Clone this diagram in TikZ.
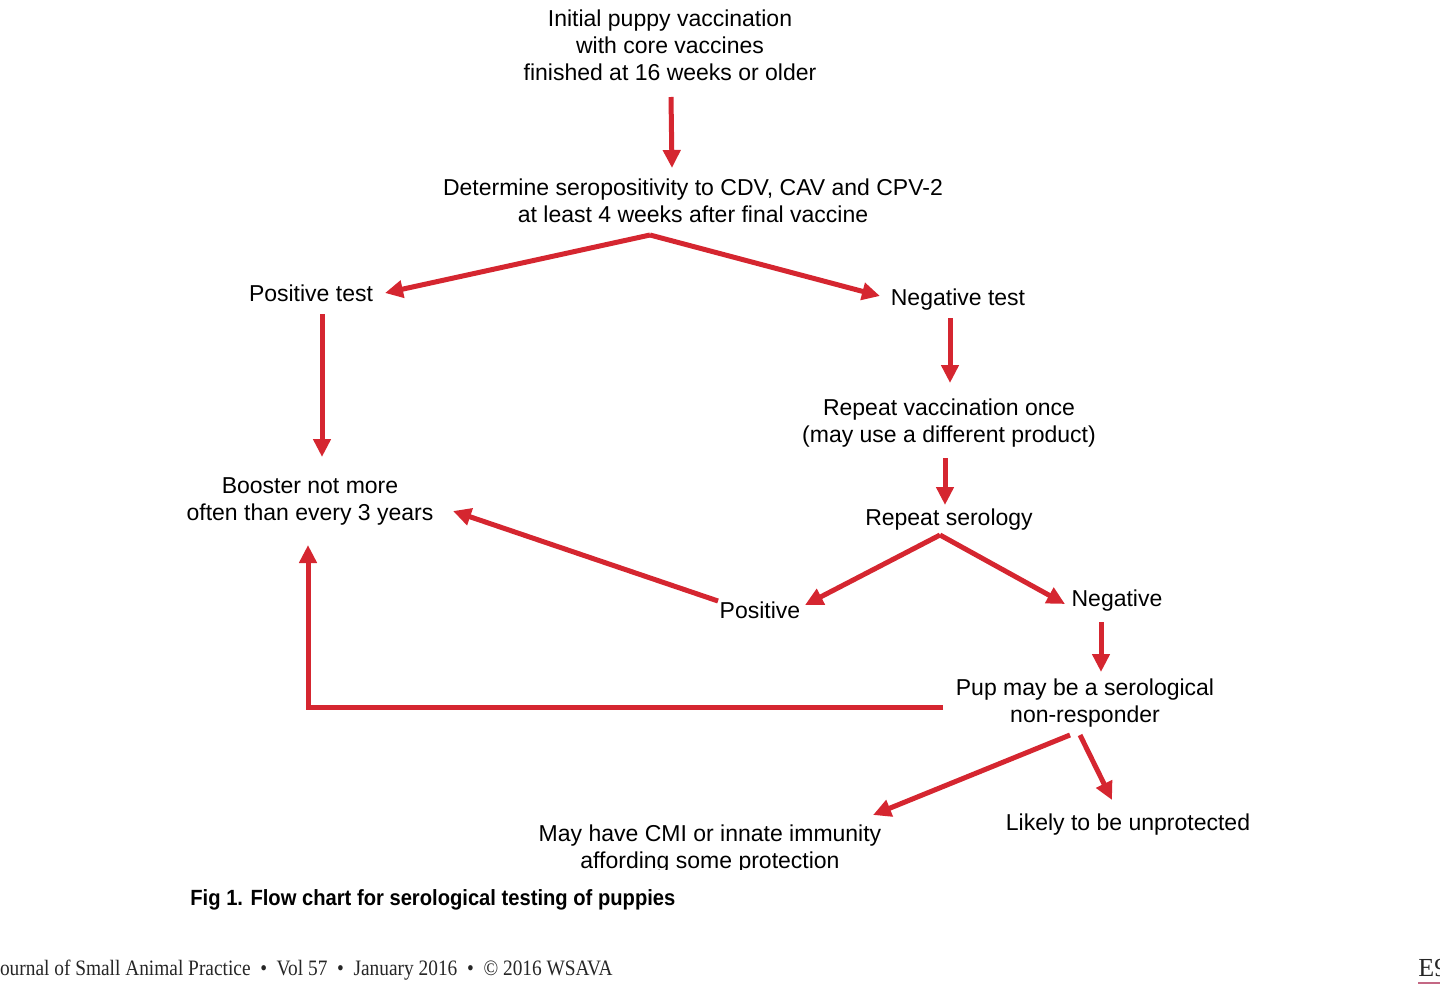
\documentclass[tikz,border=0pt]{standalone}
\usepackage{fontspec}
\setmainfont{Liberation Sans}
\newfontfamily\footserif{Liberation Serif}
\usetikzlibrary{arrows.meta}
\definecolor{arrowred}{RGB}{213,38,48}
\definecolor{pinkline}{RGB}{196,104,132}
\begin{document}
\begin{tikzpicture}[x=0.5pt,y=-0.5pt,
  txt/.style={align=center, inner sep=0pt, font=\fontsize{11.5pt}{13.5pt}\selectfont},
  arr/.style={draw=arrowred, line width=2.5pt, -{Triangle[length=9pt,width=8.5pt]}}]
\useasboundingbox (0,0) rectangle (1440,1006);
\clip (0,0) rectangle (1440,1006);
% nodes
\node[txt] (init)    at (670,45)  {Initial puppy vaccination\\with core vaccines\\finished at 16 weeks or older};
\node[txt] (det)     at (693,201) {Determine seropositivity to CDV, CAV and CPV-2\\at least 4 weeks after final vaccine};
\node[txt] (postest) at (311,293) {Positive test};
\node[txt] (negtest) at (958,300) {Negative test};
\node[txt] (repvac)  at (949,423) {Repeat vaccination once\\(may use a different product)};
\node[txt] (repser)  at (949,520) {Repeat serology};
\node[txt] (boost)   at (310,501) {Booster not more\\often than every 3 years};
\node[txt] (pos)     at (760,610) {Positive};
\node[txt] (neg)     at (1117,601) {Negative};
\node[txt] (pup)     at (1085,703) {Pup may be a serological\\non-responder};
\node[txt] (likely)  at (1128,825) {Likely to be unprotected};
\begin{scope}
  \clip (0,0) rectangle (1440,869);
  \node[txt] (cmi) at (710,849) {May have CMI or innate immunity\\affording some protection};
\end{scope}
% connectors
\draw[arr] ([shift={(1,52)}]init.center) -- ([shift={(-21,-33)}]det.center);
\draw[arr] ([shift={(-43,34)}]det.center) -- ([shift={(74,0)}]postest.center);
\draw[arr] ([shift={(-43,34)}]det.center) -- ([shift={(-78,-4)}]negtest.center);
\draw[arr] ([shift={(11,21)}]postest.center) -- ([shift={(12,-44)}]boost.center);
\draw[arr] ([shift={(-8,18)}]negtest.center) -- ([shift={(1,-40)}]repvac.center);
\draw[arr] ([shift={(-4,35)}]repvac.center) -- ([shift={(-4,-15)}]repser.center);
\draw[arr] ([shift={(-9,15)}]repser.center) -- ([shift={(45,-5)}]pos.center);
\draw[arr] ([shift={(-9,15)}]repser.center) -- ([shift={(-52,3)}]neg.center);
\draw[arr] ([shift={(-42,-9)}]pos.center) -- ([shift={(143,10)}]boost.center);
\draw[arr] ([shift={(-16,21)}]neg.center) -- ([shift={(16,-31)}]pup.center);
\draw[arr] ([shift={(-142,4)}]pup.center) -| ([shift={(-2,44)}]boost.center);
\draw[arr] ([shift={(-15,32)}]pup.center) -- ([shift={(163,-34)}]cmi.center);
\draw[arr] ([shift={(-5,32)}]pup.center) -- ([shift={(-16,-25)}]likely.center);
% caption and footer
\node[anchor=west, inner sep=0pt] (caption) at (190,900)
  {\scalebox{0.917}[1]{\fontsize{11pt}{13pt}\selectfont\bfseries Fig 1. Flow chart for serological testing of puppies}};
\node[anchor=east, inner sep=0pt, text=black!85] (footer) at (613,970)
  {\scalebox{0.88}[1]{\footserif\fontsize{11pt}{13pt}\selectfont Journal of Small Animal Practice\enspace\textbullet\enspace Vol 57\enspace\textbullet\enspace January 2016\enspace\textbullet\enspace\textcopyright{} 2016 WSAVA}};
\node[anchor=west, inner sep=0pt, text=black!85] (page) at (1418,968)
  {\footserif\fontsize{13pt}{15pt}\selectfont E9};
\draw[pinkline, line width=1pt] (page.west |- 0,983) -- (1440,983);
\end{tikzpicture}
\end{document}
